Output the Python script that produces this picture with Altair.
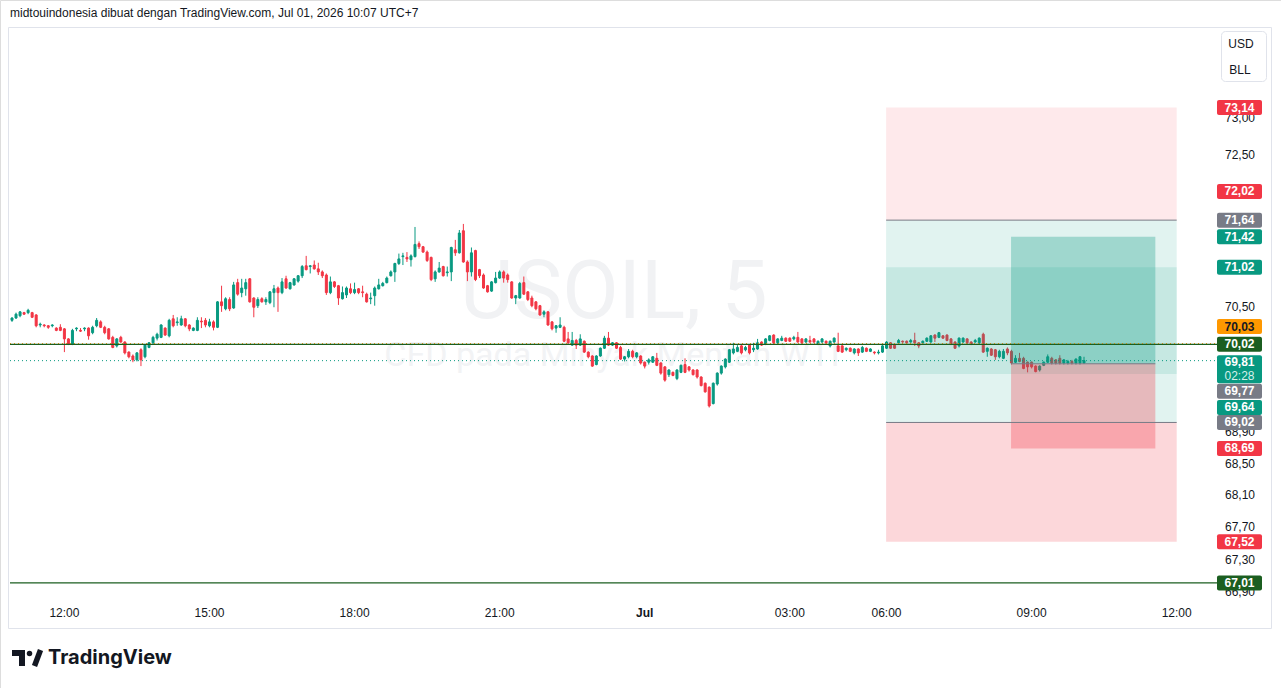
import altair as alt
import pandas as pd

# ---------------- data (USOIL, 5 min) ----------------
opens = [70.33,70.36,70.39,70.43,70.43,70.43,70.40,70.27,70.27,70.26,70.26,70.23,70.24,70.22,70.09,70.02,70.22,70.20,70.22,70.23,
70.17,70.26,70.31,70.24,70.22,70.11,70.00,70.11,70.05,69.92,69.87,69.82,69.95,69.86,69.98,70.04,70.10,70.11,70.23,70.13,
70.35,70.30,70.27,70.35,70.27,70.20,70.20,70.32,70.33,70.26,70.31,70.24,70.57,70.48,70.60,70.49,70.82,70.69,70.74,70.87,
70.62,70.52,70.61,70.57,70.56,70.69,70.75,70.69,70.87,70.74,70.79,70.84,70.91,71.04,71.03,71.05,71.00,70.96,70.92,70.69,
70.83,70.78,70.61,70.66,70.74,70.69,70.74,70.70,70.67,70.61,70.65,70.74,70.78,70.82,70.91,70.96,71.07,71.16,71.15,71.12,
71.16,71.33,71.29,71.22,71.15,70.87,70.96,71.03,70.95,70.96,71.25,71.21,71.50,71.09,70.96,71.24,70.99,70.92,70.78,70.71,
70.82,70.88,70.96,70.92,70.83,70.62,70.62,70.82,70.70,70.62,70.57,70.52,70.41,70.44,70.31,70.23,70.24,70.24,70.09,70.01,
70.07,70.01,70.06,69.92,69.87,69.76,69.87,69.97,70.10,70.01,70.04,69.98,69.83,69.86,69.93,69.86,69.87,69.79,69.79,69.79,
69.84,69.78,69.73,69.63,69.66,69.58,69.66,69.76,69.73,69.69,69.69,69.60,69.52,69.47,69.26,69.51,69.65,69.73,69.79,69.91,
69.93,70.00,69.95,70.01,69.95,69.96,70.05,70.02,70.07,70.14,70.04,70.07,70.10,70.10,70.09,70.11,70.09,70.05,70.07,70.09,
70.02,70.05,70.06,70.00,70.05,70.00,70.00,69.95,69.97,69.91,69.96,69.92,69.97,69.93,69.92,69.91,69.92,69.97,70.04,70.01,
70.04,70.06,70.06,70.05,70.07,70.04,70.04,70.06,70.05,70.14,70.11,70.13,70.14,70.09,70.05,70.00,70.05,70.09,70.05,70.05,
70.04,70.15,69.93,69.96,69.95,69.86,69.84,69.96,69.93,69.79,69.84,69.84,69.79,69.79,69.74,69.69,69.75,69.79,69.84,69.82,
69.84,69.78,69.78,69.80,69.78,69.78,69.78]
highs = [70.37,70.43,70.45,70.44,70.48,70.44,70.41,70.30,70.28,70.27,70.28,70.24,70.28,70.23,70.10,70.22,70.24,70.23,70.24,70.24,
70.26,70.36,70.33,70.26,70.23,70.13,70.10,70.13,70.06,69.93,69.89,69.92,69.97,70.02,70.05,70.13,70.17,70.28,70.24,70.35,
70.40,70.37,70.39,70.36,70.28,70.24,70.37,70.37,70.36,70.35,70.33,70.58,70.78,70.63,70.63,70.83,70.87,70.87,70.87,70.88,
70.63,70.63,70.63,70.63,70.71,70.79,70.77,70.88,70.91,70.83,70.88,70.92,71.05,71.17,71.05,71.11,71.08,70.98,70.94,70.90,
70.84,70.79,70.77,70.77,70.81,70.82,70.75,70.78,70.69,70.69,70.77,70.87,70.83,70.90,70.98,71.08,71.20,71.21,71.22,71.19,
71.55,71.36,71.30,71.24,71.16,70.98,71.09,71.04,71.03,71.29,71.38,71.51,71.59,71.11,71.28,71.25,71.00,70.94,70.79,70.84,
70.96,70.98,70.98,70.94,70.84,70.66,70.83,70.90,70.71,70.65,70.58,70.53,70.46,70.45,70.32,70.27,70.37,70.26,70.18,70.18,
70.09,70.15,70.07,69.93,69.88,69.88,69.98,70.13,70.18,70.05,70.05,70.00,69.87,69.96,69.95,69.92,69.88,69.80,69.84,69.87,
69.91,69.79,69.74,69.70,69.67,69.70,69.76,69.84,69.74,69.70,69.70,69.61,69.53,69.48,69.53,69.66,69.75,69.84,69.96,70.04,
70.01,70.01,70.00,70.02,70.04,70.09,70.06,70.10,70.14,70.15,70.10,70.13,70.11,70.11,70.13,70.18,70.10,70.10,70.13,70.10,
70.07,70.10,70.07,70.07,70.11,70.17,70.01,69.98,69.98,69.97,69.97,70.00,69.98,69.97,69.93,69.95,70.01,70.06,70.05,70.02,
70.09,70.07,70.07,70.09,70.17,70.05,70.07,70.11,70.14,70.15,70.18,70.14,70.15,70.10,70.06,70.11,70.11,70.10,70.06,70.09,
70.11,70.17,69.98,69.97,69.96,69.95,69.96,69.98,69.95,69.88,69.91,69.86,69.80,69.80,69.75,69.75,69.80,69.89,69.86,69.83,
69.88,69.83,69.82,69.82,69.84,69.87,69.86]
lows = [70.31,70.35,70.37,70.40,70.41,70.36,70.24,70.24,70.24,70.22,70.24,70.19,70.19,69.92,70.01,70.01,70.19,70.18,70.19,70.08,
70.15,70.24,70.23,70.15,70.08,69.97,69.98,70.04,69.89,69.84,69.79,69.80,69.74,69.84,69.97,70.02,70.07,70.10,70.13,70.11,
70.24,70.26,70.26,70.24,70.19,70.19,70.19,70.23,70.24,70.24,70.20,70.23,70.44,70.46,70.45,70.48,70.65,70.63,70.65,70.56,
70.37,70.49,70.56,70.53,70.54,70.50,70.44,70.67,70.74,70.73,70.78,70.82,70.88,70.98,70.94,70.99,70.92,70.88,70.66,70.67,
70.75,70.53,70.60,70.62,70.67,70.67,70.67,70.63,70.56,70.54,70.52,70.73,70.77,70.81,70.90,70.83,71.05,71.05,71.09,71.03,
71.15,71.26,71.21,71.09,70.84,70.83,70.95,70.90,70.90,70.84,71.17,71.20,71.08,70.84,70.90,70.84,70.88,70.74,70.69,70.70,
70.81,70.87,70.82,70.82,70.61,70.54,70.61,70.66,70.58,70.50,70.46,70.39,70.37,70.26,70.20,70.17,70.23,70.05,70.02,70.00,
69.96,70.00,69.91,69.84,69.73,69.75,69.86,69.96,70.00,70.00,69.96,69.82,69.80,69.84,69.84,69.84,69.76,69.71,69.76,69.78,
69.74,69.63,69.54,69.60,69.61,69.56,69.65,69.65,69.67,69.62,69.58,69.48,69.40,69.21,69.25,69.49,69.63,69.71,69.78,69.89,
69.92,69.89,69.93,69.89,69.92,69.95,70.00,70.01,70.06,70.02,70.02,70.06,70.05,70.05,70.07,70.04,70.02,70.04,70.04,70.04,
70.01,70.04,70.02,69.98,70.04,69.92,69.91,69.93,69.92,69.89,69.87,69.91,69.92,69.92,69.89,69.89,69.91,69.96,69.96,69.96,
70.02,70.04,70.02,70.04,70.00,69.97,70.02,70.05,70.04,70.05,70.10,70.09,70.06,70.01,69.96,69.98,70.04,70.02,70.01,70.04,
70.02,69.91,69.86,69.87,69.82,69.84,69.83,69.88,69.76,69.78,69.79,69.70,69.66,69.71,69.66,69.67,69.74,69.78,69.76,69.76,
69.76,69.76,69.76,69.76,69.76,69.76,69.77]
closes = [70.36,70.41,70.44,70.41,70.46,70.37,70.26,70.28,70.26,70.24,70.27,70.20,70.20,70.09,70.02,70.20,70.23,70.19,70.23,70.13,
70.24,70.33,70.24,70.17,70.09,69.98,70.09,70.05,69.91,69.86,69.82,69.91,69.82,70.01,70.04,70.11,70.15,70.27,70.14,70.33,
70.26,70.31,70.35,70.26,70.22,70.23,70.33,70.31,70.27,70.31,70.24,70.57,70.52,70.61,70.48,70.79,70.67,70.75,70.82,70.57,
70.50,70.60,70.57,70.60,70.70,70.74,70.69,70.83,70.75,70.82,70.87,70.91,71.03,70.99,71.04,71.00,70.96,70.91,70.69,70.83,
70.77,70.62,70.69,70.75,70.69,70.73,70.69,70.69,70.57,70.62,70.75,70.79,70.81,70.88,70.96,71.07,71.13,71.17,71.13,71.17,
71.32,71.29,71.22,71.11,70.86,70.96,71.01,70.91,70.96,71.28,71.21,71.47,71.09,70.96,71.21,70.86,70.91,70.75,70.70,70.83,
70.88,70.96,70.88,70.86,70.62,70.65,70.81,70.67,70.60,70.52,70.48,70.40,70.44,70.27,70.22,70.26,70.27,70.06,70.04,70.07,
70.01,70.09,69.92,69.86,69.74,69.87,69.97,70.10,70.01,70.04,69.97,69.83,69.86,69.93,69.86,69.91,69.78,69.74,69.82,69.86,
69.75,69.65,69.56,69.69,69.62,69.69,69.75,69.66,69.69,69.63,69.60,69.49,69.41,69.23,69.52,69.65,69.74,69.83,69.95,69.96,
69.98,69.91,69.98,69.91,69.97,70.04,70.01,70.09,70.13,70.04,70.09,70.10,70.06,70.06,70.11,70.05,70.04,70.09,70.05,70.05,
70.06,70.09,70.04,70.06,70.10,69.93,69.92,69.97,69.93,69.96,69.91,69.98,69.93,69.96,69.91,69.92,70.00,70.05,69.97,69.97,
70.07,70.05,70.04,70.07,70.04,70.00,70.06,70.10,70.13,70.10,70.17,70.10,70.07,70.02,69.97,70.10,70.10,70.04,70.02,70.07,
70.10,69.92,69.97,69.88,69.86,69.93,69.93,69.91,69.78,69.84,69.80,69.71,69.73,69.73,69.67,69.74,69.79,69.86,69.78,69.78,
69.78,69.82,69.80,69.78,69.83,69.86,69.81]

time_tick_pos = [13, 49, 85, 121, 157, 193, 217, 253, 289]
time_tick_text = ["12:00", "15:00", "18:00", "21:00", "Jul", "03:00", "06:00", "09:00", "12:00"]
price_ticks = [66.9, 67.3, 67.7, 68.1, 68.5, 68.9, 70.5, 72.5, 73.0]

# position tools (bar-index anchors and prices)
tool_start = [216.9, 216.9, 247.9]
tool_end = [289.0, 289.0, 283.7]
tool_entry = [71.64, 69.02, 69.77]
tool_stop = [73.14, 67.52, 68.69]
tool_target = [69.64, 71.02, 71.42]

# horizontal lines
orange_line = [70.03]
green_lines = [70.02, 67.01]
last_price = [69.81]
countdown = "02:28"

# price-axis labels
lab_price = [73.14, 72.02, 71.64, 71.42, 71.02, 70.02, 69.02, 68.69, 67.52, 67.01]
lab_kind = ["red", "red", "grey", "teal", "teal", "dkgreen", "grey", "red", "red", "dkgreen"]

# ---------------- styles ----------------
GREEN = "#089981"
RED = "#F23645"
GREY = "#787B86"
DKGREEN = "#1B5E20"
ORANGE = "#FF9800"
TXT = "#131722"
FONT = "Liberation Sans"
KIND_COL = {"red": RED, "grey": GREY, "teal": GREEN, "dkgreen": DKGREEN, "orange": ORANGE}

X = alt.Scale(domain=[0, 289], range=[12, 1176.7], nice=False, zero=False, padding=0)
Y = alt.Scale(type="log", domain=[66.80, 74.22], range=[600, 28], nice=False, padding=0)

n = len(closes)
candles = pd.DataFrame({"i": list(range(n)), "o": opens, "h": highs, "l": lows, "c": closes})
candles["col"] = [GREEN if c >= o else RED for o, c in zip(opens, closes)]


def one(t):
    return pd.DataFrame({"t": [t]})


layers = []

# frame
layers.append(alt.Chart(one("")).mark_rect(fill="white", stroke="#E0E3EB", strokeWidth=1).encode(
    x=alt.value(8.5), x2=alt.value(1271.5), y=alt.value(27.5), y2=alt.value(628.5)))

# watermark
layers.append(alt.Chart(one("USOIL, 5")).mark_text(font="Roboto", fontSize=82, color="#F1F2F4",
    align="center", baseline="alphabetic").encode(x=alt.value(614), y=alt.value(318), text="t:N"))
layers.append(alt.Chart(one("CFD pada Minyak Mentah WTI")).mark_text(font="Roboto", fontSize=34, color="#F2F3F5",
    align="center", baseline="alphabetic").encode(x=alt.value(612), y=alt.value(366), text="t:N"))

# candles
layers.append(alt.Chart(candles).mark_rule(strokeWidth=1).encode(
    x=alt.X("i:Q", scale=X, axis=None), y=alt.Y("l:Q", scale=Y, axis=None), y2="h:Q",
    color=alt.Color("col:N", scale=None)))
layers.append(alt.Chart(candles).mark_bar(size=2, strokeWidth=1).encode(
    x=alt.X("i:Q", scale=X), y=alt.Y("o:Q", scale=Y), y2="c:Q",
    fill=alt.Fill("col:N", scale=None), stroke=alt.Stroke("col:N", scale=None)))

# position tools
tool_alpha = [(0.12, 0.11), (0.12, 0.20), (0.30, 0.30)]
zrows = []
for k in range(len(tool_entry)):
    zrows.append(dict(x1=tool_start[k], x2=tool_end[k], p1=tool_entry[k], p2=tool_target[k], f=GREEN, op=tool_alpha[k][0]))
    zrows.append(dict(x1=tool_start[k], x2=tool_end[k], p1=tool_entry[k], p2=tool_stop[k], f=RED, op=tool_alpha[k][1]))
zones = pd.DataFrame(zrows)
layers.append(alt.Chart(zones).mark_rect().encode(
    x=alt.X("x1:Q", scale=X), x2="x2:Q", y=alt.Y("p1:Q", scale=Y), y2="p2:Q",
    fill=alt.Fill("f:N", scale=None), opacity=alt.Opacity("op:Q", scale=None)))
entries = pd.DataFrame({"x1": tool_start, "x2": tool_end, "p": tool_entry})
layers.append(alt.Chart(entries).mark_rule(color=GREY, strokeWidth=1).encode(
    x=alt.X("x1:Q", scale=X), x2="x2:Q", y=alt.Y("p:Q", scale=Y)))

# horizontal lines
layers.append(alt.Chart(pd.DataFrame({"p": orange_line})).mark_rule(color=ORANGE, strokeWidth=1, strokeDash=[1, 3]).encode(
    x=alt.value(10), x2=alt.value(1217), y=alt.Y("p:Q", scale=Y)))
layers.append(alt.Chart(pd.DataFrame({"p": green_lines})).mark_rule(color=DKGREEN, strokeWidth=1.2).encode(
    x=alt.value(10), x2=alt.value(1217), y=alt.Y("p:Q", scale=Y)))
layers.append(alt.Chart(pd.DataFrame({"p": last_price})).mark_rule(color=GREEN, strokeWidth=1, strokeDash=[1, 3]).encode(
    x=alt.value(10), x2=alt.value(1217), y=alt.Y("p:Q", scale=Y)))

# price axis tick labels
ptick = pd.DataFrame({"p": price_ticks, "t": [f"{v:.2f}".replace(".", ",") for v in price_ticks]})
layers.append(alt.Chart(ptick).mark_text(font=FONT, fontSize=12, color=TXT, align="center", baseline="middle").encode(
    x=alt.value(1240), y=alt.Y("p:Q", scale=Y), text="t:N"))

# time axis labels
ttick = pd.DataFrame({"x": time_tick_pos, "t": time_tick_text})
layers.append(alt.Chart(ttick).transform_filter("datum.t != 'Jul'").mark_text(
    font=FONT, fontSize=12, color=TXT, align="center", baseline="middle").encode(
    x=alt.X("x:Q", scale=X), y=alt.value(613), text="t:N"))
layers.append(alt.Chart(ttick).transform_filter("datum.t == 'Jul'").mark_text(
    font=FONT, fontSize=12, fontWeight="bold", color=TXT, align="center", baseline="middle").encode(
    x=alt.X("x:Q", scale=X), y=alt.value(613), text="t:N"))


def price_label(prices, kinds, shift=0.0, text_color="white"):
    d = pd.DataFrame({"p": prices, "t": [f"{v:.2f}".replace(".", ",") for v in prices],
                      "f": [KIND_COL[k] for k in kinds]})
    r = alt.Chart(d).mark_rect(cornerRadius=2, yOffset=shift - 7.5, y2Offset=shift + 7.5).encode(
        x=alt.value(1217), x2=alt.value(1262), y=alt.Y("p:Q", scale=Y), y2="p:Q",
        fill=alt.Fill("f:N", scale=None))
    t = alt.Chart(d).mark_text(font=FONT, fontSize=12, fontWeight="bold", color=text_color,
                               align="center", baseline="middle", dy=shift).encode(
        x=alt.value(1239.5), y=alt.Y("p:Q", scale=Y), text="t:N")
    return [r, t]


layers += price_label(lab_price, lab_kind)
layers += price_label([70.03], ["orange"], shift=-17, text_color=TXT)
layers += price_label([tool_entry[2]], ["grey"], shift=27.5)
layers += price_label([tool_target[0]], ["teal"], shift=33.5)

# last price label with countdown
lp = pd.DataFrame({"p": last_price, "t": [f"{v:.2f}".replace(".", ",") for v in last_price], "c": [countdown]})
layers.append(alt.Chart(lp).mark_rect(cornerRadius=2, yOffset=-5.5, y2Offset=22.5, fill=GREEN).encode(
    x=alt.value(1217), x2=alt.value(1262), y=alt.Y("p:Q", scale=Y), y2="p:Q"))
layers.append(alt.Chart(lp).mark_text(font=FONT, fontSize=12, fontWeight="bold", color="white",
    align="center", baseline="middle", dy=1.5).encode(x=alt.value(1239.5), y=alt.Y("p:Q", scale=Y), text="t:N"))
layers.append(alt.Chart(lp).mark_text(font=FONT, fontSize=12, color="#D6F0EB",
    align="center", baseline="middle", dy=15.5).encode(x=alt.value(1239.5), y=alt.Y("p:Q", scale=Y), text="c:N"))

# currency / unit box
layers.append(alt.Chart(one("")).mark_rect(fill="white", stroke="#E0E3EB", strokeWidth=1, cornerRadius=4).encode(
    x=alt.value(1221.5), x2=alt.value(1266.5), y=alt.value(31.5), y2=alt.value(81.5)))
layers.append(alt.Chart(one("USD")).mark_text(font=FONT, fontSize=12, color=TXT, align="center", baseline="middle").encode(
    x=alt.value(1241), y=alt.value(44), text="t:N"))
layers.append(alt.Chart(one("BLL")).mark_text(font=FONT, fontSize=12, color=TXT, align="center", baseline="middle").encode(
    x=alt.value(1240), y=alt.value(70), text="t:N"))

# header
layers.append(alt.Chart(one("midtouindonesia dibuat dengan TradingView.com, Jul 01, 2026 10:07 UTC+7")).mark_text(
    font=FONT, fontSize=12, color=TXT, align="left", baseline="middle").encode(
    x=alt.value(10), y=alt.value(13), text="t:N"))

# TradingView logo
layers.append(alt.Chart(one("")).mark_rect(color=TXT).encode(
    x=alt.value(12), x2=alt.value(25), y=alt.value(650), y2=alt.value(656)))
layers.append(alt.Chart(one("")).mark_rect(color=TXT).encode(
    x=alt.value(19), x2=alt.value(25), y=alt.value(650), y2=alt.value(666)))
layers.append(alt.Chart(one("")).mark_point(filled=True, color=TXT, size=30, opacity=1).encode(
    x=alt.value(29.5), y=alt.value(653.5)))
layers.append(alt.Chart(one("")).mark_rule(color=TXT, strokeWidth=5.5).encode(
    x=alt.value(34.5), y=alt.value(666), x2=alt.value(40.5), y2=alt.value(650)))
layers.append(alt.Chart(one("TradingView")).mark_text(font="Inter", fontSize=20, fontWeight="bold", color=TXT,
    align="left", baseline="middle").encode(x=alt.value(48), y=alt.value(658), text="t:N"))

chart = alt.layer(*layers).properties(
    width=1281, height=688, padding=0, autosize=alt.AutoSizeParams(type="none")
).configure_view(strokeWidth=0).configure(background="white")

chart.save("out.html", embed_options={"renderer": "svg", "actions": False})
